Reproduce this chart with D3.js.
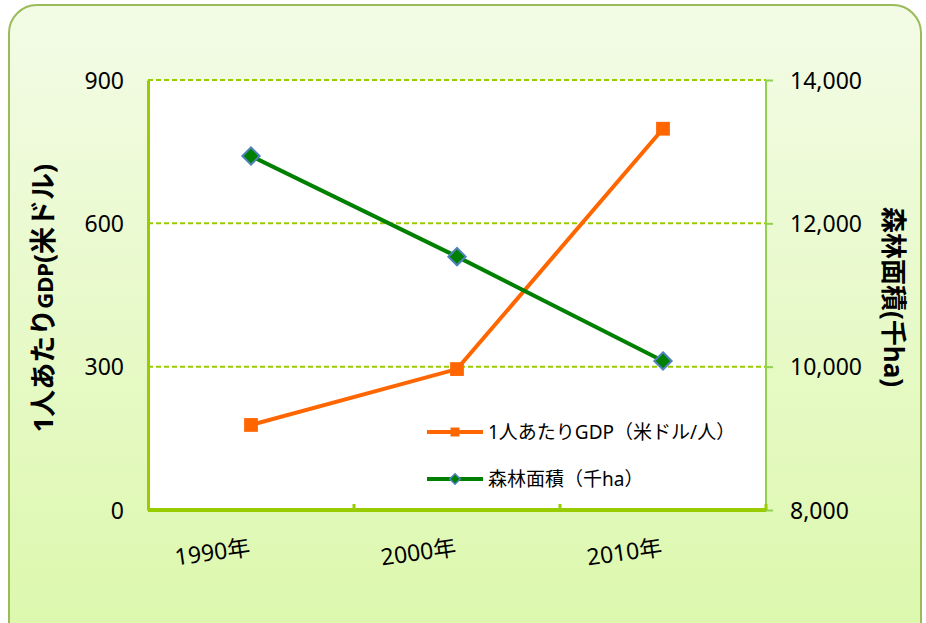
<!DOCTYPE html>
<html>
<head>
<meta charset="utf-8">
<script src="https://cdn.jsdelivr.net/npm/d3@7"></script>
<style>
  html, body { margin: 0; padding: 0; background: #ffffff; }
  svg { display: block; }
  text { font-family: "Noto Sans", "Noto Sans CJK JP", sans-serif; }
</style>
</head>
<body>
<div id="chart"></div>
<script>
// データ
const years = ["1990年", "2000年", "2010年"];
const gdpValues = [178, 295, 798];
const forestValues = [12940, 11535, 10080];
const leftTicks = [0, 300, 600, 900];
const rightTicks = [8000, 10000, 12000, 14000];
const gdpLabel = "1人あたりGDP（米ドル/人）";
const forestLabel = "森林面積（千ha）";

const W = 926, H = 623;
const plot = { left: 148, right: 766, top: 80, bottom: 510 };

const svg = d3.select("#chart").append("svg")
  .attr("width", W)
  .attr("height", H);

// 背景グラデーション
const defs = svg.append("defs");
const grad = defs.append("linearGradient")
  .attr("id", "bg-grad")
  .attr("x1", "0%").attr("y1", "0%")
  .attr("x2", "0%").attr("y2", "100%");
grad.append("stop").attr("offset", "0%").attr("stop-color", "#f3fbe6");
grad.append("stop").attr("offset", "100%").attr("stop-color", "#dbf8aa");

svg.append("rect")
  .attr("x", 9).attr("y", 5)
  .attr("width", 912).attr("height", 660)
  .attr("rx", 28).attr("ry", 28)
  .attr("fill", "url(#bg-grad)")
  .attr("stroke", "#9bbb59")
  .attr("stroke-width", 2);

// プロットエリア
svg.append("rect")
  .attr("x", plot.left).attr("y", plot.top)
  .attr("width", plot.right - plot.left)
  .attr("height", plot.bottom - plot.top)
  .attr("fill", "#ffffff");

// スケール
const x = d3.scaleBand().domain(years).range([plot.left, plot.right]);
const yL = d3.scaleLinear().domain([0, 900]).range([plot.bottom, plot.top]);
const yR = d3.scaleLinear().domain([8000, 14000]).range([plot.bottom, plot.top]);

// グリッド線
svg.append("g")
  .selectAll("line")
  .data(leftTicks.filter(d => d > 0))
  .enter()
  .append("line")
  .attr("x1", plot.left).attr("x2", plot.right)
  .attr("y1", d => yL(d)).attr("y2", d => yL(d))
  .attr("stroke", "#99cc00")
  .attr("stroke-width", 2)
  .attr("stroke-dasharray", "5,3");

// 左軸
const axisL = svg.append("g")
  .attr("transform", `translate(${plot.left},0)`)
  .call(d3.axisLeft(yL).tickValues(leftTicks).tickSize(0).tickPadding(24));
axisL.select(".domain").attr("stroke", "#99cc00").attr("stroke-width", 3);
axisL.selectAll(".tick text")
  .style("font-size", "23px")
  .style("fill", "#000")
  .attr("dy", "0.35em");

// 右軸
const axisR = svg.append("g")
  .attr("transform", `translate(${plot.right},0)`)
  .call(d3.axisRight(yR).tickValues(rightTicks).tickSize(7).tickPadding(17).tickFormat(d3.format(",")));
axisR.select(".domain").attr("stroke", "#92d050").attr("stroke-width", 2).attr("d", `M0,${plot.top}V${plot.bottom}`);
axisR.selectAll(".tick line").attr("stroke", "#92d050").attr("stroke-width", 2);
axisR.selectAll(".tick text")
  .style("font-size", "23px")
  .style("fill", "#000")
  .attr("dy", "0.35em");

// 下軸
const axisB = svg.append("g")
  .attr("transform", `translate(0,${plot.bottom})`)
  .call(d3.axisBottom(x).tickSize(0).tickFormat(""));
axisB.select(".domain").attr("stroke", "#99cc00").attr("stroke-width", 4)
  .attr("d", `M${plot.left},0H${plot.right}`);
axisB.selectAll(".tick").remove();
axisB.selectAll("line.bnd")
  .data(years.slice(1).map(d => x(d)).concat([plot.right]))
  .enter()
  .append("line")
  .attr("class", "bnd")
  .attr("x1", d => d).attr("x2", d => d)
  .attr("y1", 0).attr("y2", -6)
  .attr("stroke", "#99cc00")
  .attr("stroke-width", 3);

// 下軸ラベル（回転）
svg.append("g")
  .selectAll("text")
  .data(years)
  .enter()
  .append("text")
  .attr("transform", d => `translate(${x(d) + x.bandwidth() / 2},${plot.bottom + 45}) rotate(-8)`)
  .attr("text-anchor", "end")
  .style("font-size", "23px")
  .style("fill", "#000")
  .text(d => d);

// 線と点
const cx = d => x(d) + x.bandwidth() / 2;
const gdpData = years.map((d, i) => ({ year: d, value: gdpValues[i] }));
const forestData = years.map((d, i) => ({ year: d, value: forestValues[i] }));

svg.append("path")
  .datum(gdpData)
  .attr("fill", "none")
  .attr("stroke", "#ff6600")
  .attr("stroke-width", 4)
  .attr("d", d3.line().x(d => cx(d.year)).y(d => yL(d.value)));

svg.append("path")
  .datum(forestData)
  .attr("fill", "none")
  .attr("stroke", "#008000")
  .attr("stroke-width", 4)
  .attr("d", d3.line().x(d => cx(d.year)).y(d => yR(d.value)));

const sq = d3.symbol().type(d3.symbolSquare).size(190);
const dia = d3.symbol().type(d3.symbolDiamond2).size(190);

svg.append("g")
  .selectAll("path")
  .data(gdpData)
  .enter()
  .append("path")
  .attr("transform", d => `translate(${cx(d.year)},${yL(d.value)})`)
  .attr("d", sq)
  .attr("fill", "#ff6600");

svg.append("g")
  .selectAll("path")
  .data(forestData)
  .enter()
  .append("path")
  .attr("transform", d => `translate(${cx(d.year)},${yR(d.value)})`)
  .attr("d", dia)
  .attr("fill", "#008000")
  .attr("stroke", "#4f81bd")
  .attr("stroke-width", 2);

// 軸タイトル
svg.append("text")
  .attr("transform", "translate(53,298) rotate(-90)")
  .attr("text-anchor", "middle")
  .style("font-size", "27px")
  .style("font-weight", "bold")
  .style("fill", "#000")
  .call(t => {
    t.append("tspan").text("1人あたり");
    t.append("tspan").style("font-size", "22px").text("GDP");
    t.append("tspan").text("(米ドル)");
  });

svg.append("text")
  .attr("transform", "translate(884,297) rotate(90)")
  .attr("text-anchor", "middle")
  .style("font-size", "26px")
  .style("font-weight", "bold")
  .style("fill", "#000")
  .text("森林面積(千ha)");

// 凡例
const legend = svg.append("g").attr("transform", "translate(427,432)");
const legendItems = [
  { label: gdpLabel, color: "#ff6600", sym: d3.symbol().type(d3.symbolSquare).size(80), fill: "#ff6600", stroke: "none" },
  { label: forestLabel, color: "#008000", sym: d3.symbol().type(d3.symbolDiamond2).size(70), fill: "#008000", stroke: "#4f81bd" }
];
const li = legend.selectAll("g")
  .data(legendItems)
  .enter()
  .append("g")
  .attr("transform", (d, i) => `translate(0,${i * 47})`);
li.append("line")
  .attr("x1", 0).attr("x2", 56)
  .attr("stroke", d => d.color)
  .attr("stroke-width", 4);
li.append("path")
  .attr("transform", "translate(28,0)")
  .attr("d", d => d.sym())
  .attr("fill", d => d.fill)
  .attr("stroke", d => d.stroke)
  .attr("stroke-width", 1.5);
li.append("text")
  .attr("x", 61)
  .attr("dy", "0.35em")
  .style("font-size", "19px")
  .style("fill", "#000")
  .text(d => d.label);
</script>
</body>
</html>
